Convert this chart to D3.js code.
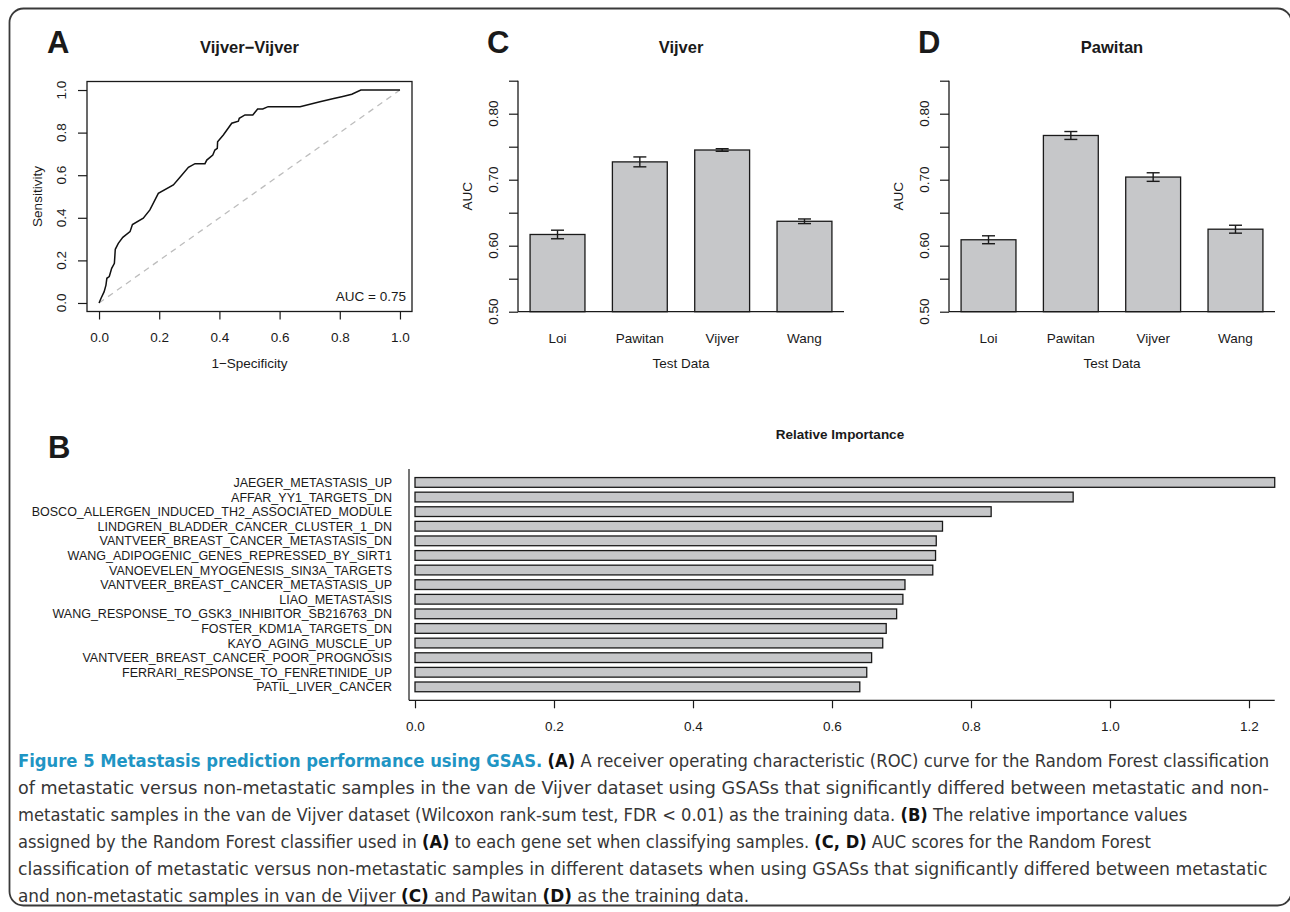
<!DOCTYPE html>
<html>
<head>
<meta charset="utf-8">
<script src="https://cdn.jsdelivr.net/npm/d3@7"></script>
<style>
body { margin: 0; background: #fff; }
svg text { font-family: "Liberation Sans", Arial, Helvetica, sans-serif; fill: #1a1a1a; }
svg text.cap { font-family: "Liberation Sans Narrow", "DejaVu Sans Condensed", "Liberation Sans", sans-serif; fill: #363636; }
</style>
</head>
<body>
<svg id="fig" width="1290" height="912"></svg>
<script>

/* ROC curve, panel A (1-specificity, sensitivity) */
var rocFpr = [0, 0.006, 0.017, 0.023, 0.026, 0.034, 0.042, 0.051, 0.054, 0.064, 0.079, 0.103, 0.111, 0.147, 0.169, 0.197,
    0.247, 0.269, 0.297, 0.319, 0.352, 0.358, 0.378, 0.385, 0.393, 0.394, 0.413, 0.441, 0.463, 0.466, 0.485, 0.511,
    0.527, 0.544, 0.562, 0.668, 0.734, 0.78, 0.81, 0.84, 0.87, 1.0];
var rocTpr = [0, 0.02, 0.053, 0.084, 0.116, 0.124, 0.163, 0.186, 0.252, 0.28, 0.308, 0.335, 0.368, 0.398, 0.437, 0.515,
    0.554, 0.59, 0.637, 0.654, 0.654, 0.671, 0.695, 0.718, 0.726, 0.757, 0.789, 0.844, 0.854, 0.867, 0.883, 0.883,
    0.911, 0.911, 0.922, 0.922, 0.945, 0.96, 0.97, 0.98, 1.0, 1.0];
var rocAuc = "AUC = 0.75";
var unitTicks = [0, 0.2, 0.4, 0.6, 0.8, 1.0];

/* AUC bars, panels C and D */
var testSets = ["Loi", "Pawitan", "Vijver", "Wang"];
var vijverAuc = [0.617, 0.727, 0.745, 0.637];
var vijverErr = [0.0065, 0.0075, 0.002, 0.0035];
var pawitanAuc = [0.609, 0.767, 0.704, 0.625];
var pawitanErr = [0.006, 0.006, 0.0065, 0.006];
var aucTicks = [0.50, 0.55, 0.60, 0.65, 0.70, 0.75, 0.80, 0.85];
var aucLabels = ["0.50", "", "0.60", "", "0.70", "", "0.80", ""];

/* relative importance, panel B */
var geneSets = ["JAEGER_METASTASIS_UP", "AFFAR_YY1_TARGETS_DN", "BOSCO_ALLERGEN_INDUCED_TH2_ASSOCIATED_MODULE",
    "LINDGREN_BLADDER_CANCER_CLUSTER_1_DN", "VANTVEER_BREAST_CANCER_METASTASIS_DN", "WANG_ADIPOGENIC_GENES_REPRESSED_BY_SIRT1",
    "VANOEVELEN_MYOGENESIS_SIN3A_TARGETS", "VANTVEER_BREAST_CANCER_METASTASIS_UP", "LIAO_METASTASIS",
    "WANG_RESPONSE_TO_GSK3_INHIBITOR_SB216763_DN", "FOSTER_KDM1A_TARGETS_DN", "KAYO_AGING_MUSCLE_UP",
    "VANTVEER_BREAST_CANCER_POOR_PROGNOSIS", "FERRARI_RESPONSE_TO_FENRETINIDE_UP", "PATIL_LIVER_CANCER"];
var importance = [1.237, 0.947, 0.829, 0.759, 0.750, 0.749, 0.745, 0.705, 0.702, 0.693, 0.678, 0.673, 0.657, 0.650, 0.640];
var importanceTicks = [0, 0.2, 0.4, 0.6, 0.8, 1.0, 1.2];

/* caption lines: [text, style] where style is n (normal), b (bold) or t (bold teal) */
var captionLines = [
    [["Figure 5 Metastasis prediction performance using GSAS.", "t"], [" ", "n"], ["(A)", "b"],
        [" A receiver operating characteristic (ROC) curve for the Random Forest classification", "n"]],
    [["of metastatic versus non-metastatic samples in the van de Vijver dataset using GSASs that significantly differed between metastatic and non-", "n"]],
    [["metastatic samples in the van de Vijver dataset (Wilcoxon rank-sum test, FDR < 0.01) as the training data. ", "n"], ["(B)", "b"],
        [" The relative importance values", "n"]],
    [["assigned by the Random Forest classifier used in ", "n"], ["(A)", "b"], [" to each gene set when classifying samples. ", "n"],
        ["(C, D)", "b"], [" AUC scores for the Random Forest", "n"]],
    [["classification of metastatic versus non-metastatic samples in different datasets when using GSASs that significantly differed between metastatic", "n"]],
    [["and non-metastatic samples in van de Vijver ", "n"], ["(C)", "b"], [" and Pawitan ", "n"], ["(D)", "b"], [" as the training data.", "n"]]
];
var captionEnds = [1270, 1270, 1188, 1152, 1268, 750];

var svg = d3.select("#fig");
var ink = "#1a1a1a", barFill = "#c6c7c9";
var axisFont = 13.5;

// outer frame
svg.append("rect")
    .attr("x", 9.5).attr("y", 8.5)
    .attr("width", 1282).attr("height", 897)
    .attr("rx", 14).attr("ry", 14)
    .attr("fill", "none").attr("stroke", "#3a3a3a").attr("stroke-width", 1.8);

function panelLetter(txt, x, y) {
    svg.append("text").attr("x", x).attr("y", y)
        .attr("font-size", 31).attr("font-weight", "bold")
        .text(txt);
}

function rotLabel(g, txt, x, y, size) {
    g.append("text")
        .attr("transform", "translate(" + x + "," + y + ") rotate(-90)")
        .attr("text-anchor", "middle").attr("dy", "0.35em")
        .attr("font-size", size || axisFont)
        .text(txt);
}

function styleAxis(g) {
    g.selectAll("path.domain").remove();
    g.selectAll(".tick line").attr("stroke", ink).attr("stroke-width", 1.2);
    g.selectAll(".tick text").attr("font-size", axisFont).attr("fill", ink)
        .style("font-family", "'Liberation Sans', Arial, sans-serif");
}

/* ---------------- panel A: ROC ---------------- */
var ax = d3.scaleLinear().domain([-0.04, 1.04]).range([87, 412]);
var ay = d3.scaleLinear().domain([-0.04, 1.04]).range([311.5, 81.5]);

panelLetter("A", 47, 53);
svg.append("text").attr("x", (ax.range()[0] + ax.range()[1]) / 2).attr("y", 52.5)
    .attr("text-anchor", "middle").attr("font-size", 16.5).attr("font-weight", "bold")
    .text("Vijver\u2212Vijver");

svg.append("line")
    .attr("x1", ax(0)).attr("y1", ay(0)).attr("x2", ax(1)).attr("y2", ay(1))
    .attr("stroke", "#bdbdbd").attr("stroke-width", 1.3).attr("stroke-dasharray", "6,5");

var rocLine = d3.line()
    .x(function (d) { return ax(d[0]); })
    .y(function (d) { return ay(d[1]); });

svg.append("path")
    .datum(rocFpr.map(function (f, i) { return [f, rocTpr[i]]; }))
    .attr("d", rocLine)
    .attr("fill", "none").attr("stroke", "#111").attr("stroke-width", 1.5);

svg.append("rect")
    .attr("x", 87).attr("y", 81.5).attr("width", 325).attr("height", 230)
    .attr("fill", "none").attr("stroke", ink).attr("stroke-width", 1.3);

var axA = svg.append("g").attr("transform", "translate(0,311.5)")
    .call(d3.axisBottom(ax).tickValues(unitTicks).tickSize(8).tickPadding(13).tickFormat(d3.format(".1f")));
styleAxis(axA);

var ayA = svg.append("g").attr("transform", "translate(87,0)")
    .call(d3.axisLeft(ay).tickValues(unitTicks).tickSize(9).tickFormat(""));
styleAxis(ayA);
unitTicks.forEach(function (t) {
    rotLabel(svg, d3.format(".1f")(t), 61, ay(t));
});

svg.append("text").attr("x", ax(0.5)).attr("y", 368).attr("text-anchor", "middle")
    .attr("font-size", axisFont).text("1\u2212Specificity");
rotLabel(svg, "Sensitivity", 37, ay(0.5));
svg.append("text").attr("x", 406).attr("y", 301).attr("text-anchor", "end")
    .attr("font-size", axisFont).text(rocAuc);

/* ---------------- panels C and D: AUC bars ---------------- */
function aucPanel(letter, title, left, values, errs) {
    var g = svg.append("g");
    var x = d3.scaleLinear().domain([0.28, 6.22]).range([left, left + 326]);
    var y = d3.scaleLinear().domain([0.5, 0.85]).range([311.7, 80.7]);

    panelLetter(letter, left - 31, 53);
    g.append("text").attr("x", x(3.25)).attr("y", 52.5)
        .attr("text-anchor", "middle").attr("font-size", 16.5).attr("font-weight", "bold")
        .text(title);

    g.selectAll("rect.bar").data(values).enter().append("rect")
        .attr("class", "bar")
        .attr("x", function (d, i) { return x(0.5 + i * 1.5); })
        .attr("width", function () { return x(1.5) - x(0.5); })
        .attr("y", function (d) { return y(d); })
        .attr("height", function (d) { return y(0.5) - y(d); })
        .attr("fill", barFill).attr("stroke", ink).attr("stroke-width", 1.3);

    // error bars
    var eb = g.selectAll("g.err").data(values).enter().append("g").attr("class", "err");
    eb.append("line")
        .attr("x1", function (d, i) { return x(1 + i * 1.5); })
        .attr("x2", function (d, i) { return x(1 + i * 1.5); })
        .attr("y1", function (d, i) { return y(d - errs[i]); })
        .attr("y2", function (d, i) { return y(d + errs[i]); });
    [-1, 1].forEach(function (s) {
        eb.append("line")
            .attr("x1", function (d, i) { return x(1 + i * 1.5) - 6.5; })
            .attr("x2", function (d, i) { return x(1 + i * 1.5) + 6.5; })
            .attr("y1", function (d, i) { return y(d + s * errs[i]); })
            .attr("y2", function (d, i) { return y(d + s * errs[i]); });
    });
    eb.selectAll("line").attr("stroke", ink).attr("stroke-width", 1.4);

    // axes
    g.append("line").attr("x1", left).attr("x2", left + 326).attr("y1", y(0.5)).attr("y2", y(0.5))
        .attr("stroke", ink).attr("stroke-width", 1.3);
    g.append("line").attr("x1", left).attr("x2", left).attr("y1", y(0.5)).attr("y2", y(0.85))
        .attr("stroke", ink).attr("stroke-width", 1.3);
    var ya = g.append("g").attr("transform", "translate(" + left + ",0)")
        .call(d3.axisLeft(y).tickValues(aucTicks).tickSize(9).tickFormat(""));
    styleAxis(ya);
    aucTicks.forEach(function (t, i) {
        if (aucLabels[i]) rotLabel(g, aucLabels[i], left - 25, y(t));
    });

    testSets.forEach(function (name, i) {
        g.append("text").attr("x", x(1 + i * 1.5)).attr("y", 343)
            .attr("text-anchor", "middle").attr("font-size", axisFont).text(name);
    });
    g.append("text").attr("x", x(3.25)).attr("y", 368).attr("text-anchor", "middle")
        .attr("font-size", axisFont).text("Test Data");
    rotLabel(g, "AUC", left - 51, y(0.675));
}

aucPanel("C", "Vijver", 518, vijverAuc, vijverErr);
aucPanel("D", "Pawitan", 949, pawitanAuc, pawitanErr);

/* ---------------- panel B: relative importance ---------------- */
var bx = d3.scaleLinear().domain([0, 1.2]).range([415, 1249]);
var by = d3.scaleLinear().domain([-0.38, 23.38]).range([469, 700.3]);

panelLetter("B", 48, 458);
svg.append("text").attr("x", 840).attr("y", 439).attr("text-anchor", "middle")
    .attr("font-size", 13.5).attr("font-weight", "bold").text("Relative Importance");

var bg = svg.append("g");
bg.selectAll("rect").data(importance).enter().append("rect")
    .attr("x", bx(0))
    .attr("y", function (d, i) { return by(0.5 + i * 1.5); })
    .attr("height", function () { return by(1.5) - by(0.5); })
    .attr("width", function (d) { return bx(d) - bx(0); })
    .attr("fill", barFill).attr("stroke", ink).attr("stroke-width", 1.3);

bg.selectAll("text.gs").data(geneSets).enter().append("text")
    .attr("class", "gs")
    .attr("x", 392)
    .attr("y", function (d, i) { return by(1 + i * 1.5); })
    .attr("dy", "0.36em")
    .attr("text-anchor", "end")
    .attr("font-size", 12.5)
    .text(function (d) { return d; });

bg.append("line").attr("x1", 409).attr("x2", 409).attr("y1", by(-0.38)).attr("y2", by(23.38))
    .attr("stroke", ink).attr("stroke-width", 1.2);
bg.append("line").attr("x1", 409).attr("x2", bx(importance[0])).attr("y1", by(23.38)).attr("y2", by(23.38))
    .attr("stroke", ink).attr("stroke-width", 1.2);
var bAxis = bg.append("g").attr("transform", "translate(0," + by(23.38) + ")")
    .call(d3.axisBottom(bx).tickValues(importanceTicks).tickSize(8).tickPadding(13).tickFormat(d3.format(".1f")));
styleAxis(bAxis);

/* ---------------- caption ---------------- */
// each line is drawn at its natural width and then squeezed horizontally to the reference line length
var cap = svg.append("g");
captionLines.forEach(function (line, li) {
    var lg = cap.append("g");
    var t = lg.append("text").attr("class", "cap")
        .attr("x", 0).attr("y", 0)
        .attr("font-size", 18.5);
    line.forEach(function (seg) {
        var ts = t.append("tspan").text(seg[0]);
        if (seg[1] !== "n") ts.attr("font-weight", "bold");
        if (seg[1] === "t") ts.style("fill", "#1f95c4");
        if (seg[1] === "b") ts.style("fill", "#111");
    });
    var natural = t.node().getComputedTextLength();
    var k = (captionEnds[li] - 18) / natural;
    lg.attr("transform", "translate(18," + (767 + li * 27) + ") scale(" + k + ",1)");
});

</script>
</body>
</html>
